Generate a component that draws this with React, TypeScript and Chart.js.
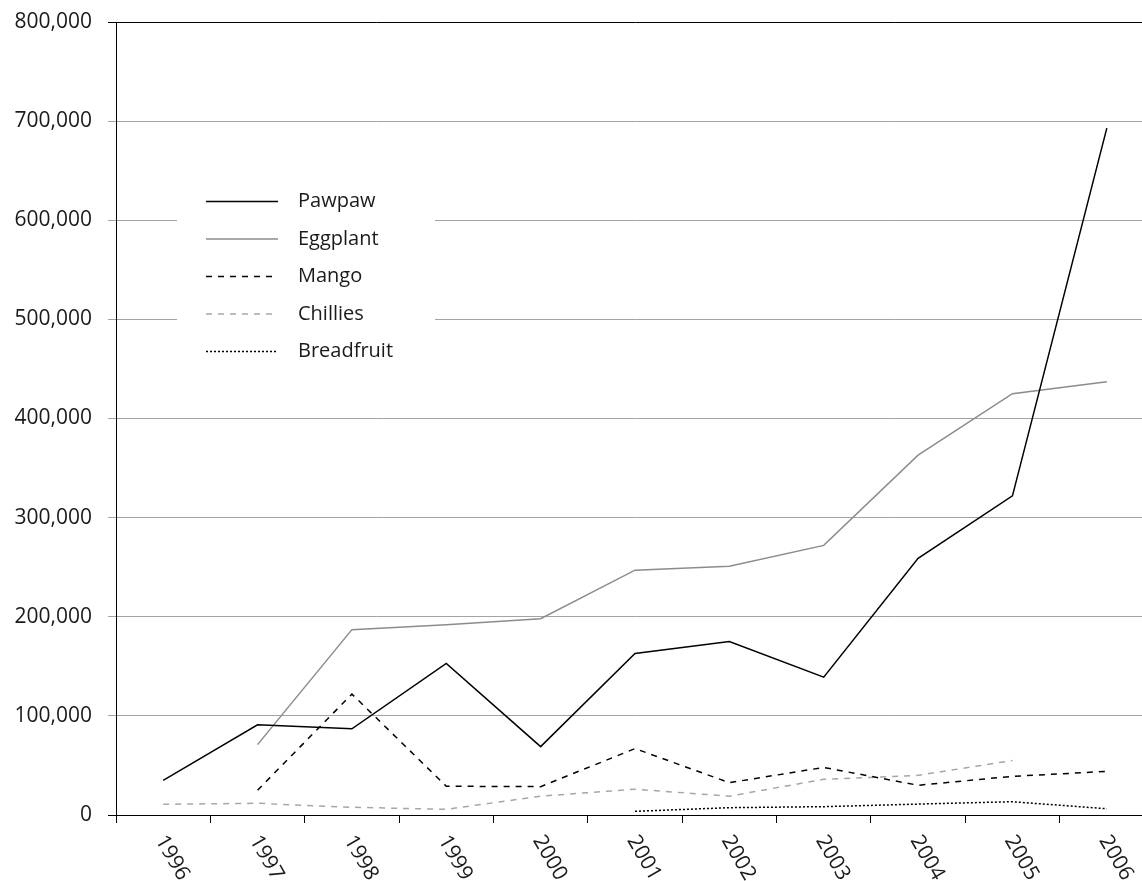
import React, { useEffect, useRef } from 'react';
import { Chart, registerables } from 'chart.js';

Chart.register(...registerables);

const years = ['1996', '1997', '1998', '1999', '2000', '2001', '2002', '2003', '2004', '2005', '2006'];
const pawpaw = [35000, 91000, 87000, 153000, 69000, 163000, 175000, 139000, 259000, 322000, 693000];
const eggplant = [null, 71000, 187000, 192000, 198000, 247000, 251000, 272000, 363000, 425000, 437000];
const mango = [null, 25000, 122000, 29000, 28600, 67000, 32600, 48000, 30000, 39000, 44000];
const chillies = [10800, 11800, 7800, 5700, 19000, 26000, 19000, 36000, 40000, 55000, null];
const breadfruit = [null, null, null, null, null, 3700, 7400, 8400, 11000, 13400, 6300];
const seriesNames = ['Pawpaw', 'Eggplant', 'Mango', 'Chillies', 'Breadfruit'];
const yMin = 0;
const yMax = 800000;
const yStep = 100000;

const FONT = '"Open Sans", "DejaVu Sans", sans-serif';

const xLabelPlugin = {
  id: 'rotatedXLabels',
  afterDraw(chart: any) {
    const ctx = chart.ctx;
    const xs = chart.scales.x;
    const bottom = chart.chartArea.bottom;
    ctx.save();
    ctx.fillStyle = '#1a1a1a';
    ctx.font = `21px ${FONT}`;
    ctx.textAlign = 'left';
    ctx.textBaseline = 'middle';
    chart.data.labels.forEach((lab: string, i: number) => {
      const x = xs.getPixelForValue(i);
      ctx.save();
      ctx.translate(x - 3, bottom + 22);
      ctx.rotate((60 * Math.PI) / 180);
      ctx.fillText(lab, 0, 0);
      ctx.restore();
    });
    ctx.restore();
  },
};

const legendPlugin = {
  id: 'boxLegend',
  afterDraw(chart: any) {
    const ctx = chart.ctx;
    ctx.save();
    ctx.fillStyle = '#ffffff';
    ctx.fillRect(177, 172, 258, 200);
    const rowY = [201.5, 239, 276.5, 314, 351.5];
    chart.data.datasets.forEach((ds: any, i: number) => {
      const y = rowY[i];
      ctx.beginPath();
      ctx.setLineDash(ds.borderDash || []);
      ctx.strokeStyle = ds.borderColor;
      ctx.lineWidth = ds.borderWidth;
      ctx.moveTo(206, y);
      ctx.lineTo(278, y);
      ctx.stroke();
      ctx.setLineDash([]);
      ctx.fillStyle = '#1a1a1a';
      ctx.font = `20px ${FONT}`;
      ctx.textAlign = 'left';
      ctx.textBaseline = 'middle';
      ctx.fillText(ds.label, 298, y);
    });
    ctx.restore();
  },
};

export default function App() {
  const ref = useRef<HTMLCanvasElement | null>(null);

  useEffect(() => {
    if (!ref.current) return;
    const mk = (label: string, data: any[], color: string, dash: number[], width: number) => ({
      label,
      data,
      borderColor: color,
      backgroundColor: color,
      borderDash: dash,
      borderWidth: width,
      pointRadius: 0,
      pointHoverRadius: 0,
      tension: 0,
      spanGaps: false,
      fill: false,
    });
    const chart = new Chart(ref.current, {
      type: 'line',
      data: {
        labels: years,
        datasets: [
          mk(seriesNames[0], pawpaw, '#000000', [], 1.5),
          mk(seriesNames[1], eggplant, '#8c8c8c', [], 1.5),
          mk(seriesNames[2], mango, '#000000', [6, 6], 1.5),
          mk(seriesNames[3], chillies, '#a6a6a6', [6, 6], 1.5),
          mk(seriesNames[4], breadfruit, '#000000', [2, 2], 1.5),
        ],
      },
      options: {
        responsive: false,
        animation: false,
        devicePixelRatio: 1,
        layout: { padding: { top: 0, right: 2, left: 0, bottom: 0 } },
        plugins: {
          legend: { display: false },
          tooltip: { enabled: false },
        },
        scales: {
          x: {
            type: 'category',
            offset: true,
            grid: {
              offset: true,
              drawOnChartArea: false,
              drawTicks: true,
              tickLength: 8,
              color: '#000000',
              lineWidth: 1,
            },
            border: { display: true, color: '#000000', width: 1 },
            ticks: { display: false, autoSkip: false, maxRotation: 0 },
            afterFit: (scale: any) => {
              scale.height = 66;
            },
          },
          y: {
            min: yMin,
            max: yMax,
            grid: {
              drawTicks: true,
              tickLength: 8,
              color: (c: any) =>
                c.tick && (c.tick.value === yMax || c.tick.value === yMin) ? '#000000' : '#a3a3a3',
              lineWidth: 1,
            },
            border: { display: true, color: '#000000', width: 1 },
            ticks: {
              stepSize: yStep,
              padding: 16,
              color: '#1a1a1a',
              font: { family: FONT, size: 21 },
              callback: (v: any) => Number(v).toLocaleString('en-US'),
            },
            afterFit: (scale: any) => {
              scale.width = 116;
              scale.paddingTop = 22;
              scale.paddingBottom = 0;
            },
          },
        },
      },
      plugins: [xLabelPlugin, legendPlugin],
    });
    return () => chart.destroy();
  }, []);

  return (
    <div
      style={{
        position: 'fixed',
        left: 0,
        top: 0,
        width: 1142,
        height: 881,
        overflow: 'hidden',
        background: '#ffffff',
      }}
    >
      <canvas ref={ref} width={1156} height={881} style={{ display: 'block' }} />
    </div>
  );
}
